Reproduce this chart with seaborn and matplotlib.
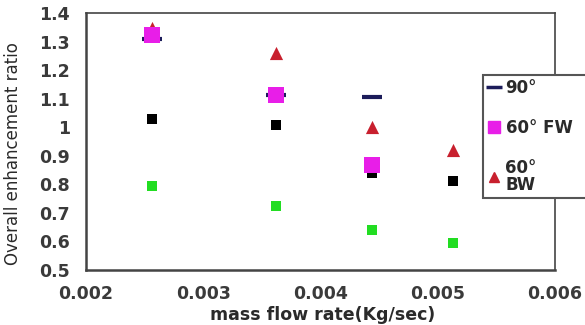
import matplotlib
matplotlib.use('Agg')
import matplotlib.pyplot as plt
import seaborn as sns
from matplotlib.lines import Line2D

# data
flow = [0.00256, 0.00362, 0.00444, 0.00513]
plain_black = [1.029, 1.008, 0.840, 0.812]
plain_green = [0.794, 0.724, 0.640, 0.595]
deg90_flow = [0.00256, 0.00362, 0.00444]
deg90 = [1.309, 1.113, 1.106]
fw60 = [1.323, 1.113, 0.868]
bw60 = [1.347, 1.260, 1.000, 0.920]

y_ticks = [0.5, 0.6, 0.7, 0.8, 0.9, 1.0, 1.1, 1.2, 1.3, 1.4]
y_tick_labels = ['0.5', '0.6', '0.7', '0.8', '0.9', '1', '1.1', '1.2', '1.3', '1.4']
x_ticks = [0.002, 0.003, 0.004, 0.005, 0.006]
x_tick_labels = ['0.002', '0.003', '0.004', '0.005', '0.006']

navy = '#1c1c5a'
magenta = '#e81ee8'
red = '#c8202e'
green = '#22dd22'

sns.set_style('white')
plt.rcParams['font.family'] = ['DejaVu Sans']

fig = plt.figure(figsize=(5.85, 3.25), dpi=100)
ax = fig.add_axes([86 / 585, 55 / 325, 469 / 585, 257 / 325])

sns.scatterplot(x=flow, y=plain_black, ax=ax, marker='s', s=50, color='black', linewidth=0, zorder=2)
sns.scatterplot(x=flow, y=plain_green, ax=ax, marker='s', s=50, color=green, linewidth=0, zorder=2)
ax.plot(deg90_flow, deg90, linestyle='none', marker='_', markersize=14, markeredgewidth=3,
        color=navy, zorder=3)
sns.scatterplot(x=flow, y=bw60, ax=ax, marker='^', s=90, color=red, linewidth=0, zorder=4)
sns.scatterplot(x=flow[:3], y=fw60, ax=ax, marker='s', s=120, color=magenta, linewidth=0, zorder=5)

ax.set_xlim(0.002, 0.006)
ax.set_ylim(0.5, 1.4)
ax.set_xticks(x_ticks)
ax.set_xticklabels(x_tick_labels)
ax.set_yticks(y_ticks)
ax.set_yticklabels(y_tick_labels)
ax.tick_params(axis='both', direction='out', length=5.5, width=1.2, color='#444',
               labelsize=12.5, labelcolor='#3a3a3a')
for lab in ax.get_xticklabels() + ax.get_yticklabels():
    lab.set_fontweight('bold')
ax.tick_params(axis='x', pad=5)
ax.tick_params(axis='y', pad=6)

for side in ['left', 'bottom']:
    ax.spines[side].set_linewidth(1.8)
    ax.spines[side].set_color('#444')
for side in ['top', 'right']:
    ax.spines[side].set_linewidth(1.2)
    ax.spines[side].set_color('#444')

ax.set_xlabel('mass flow rate(Kg/sec)', fontsize=12.5, fontweight='bold', color='#2a2a2a')
ax.xaxis.set_label_coords(0.505, -0.142)
ax.set_ylabel('Overall enhancement ratio', fontsize=12, color='#2a2a2a')
ax.yaxis.set_label_coords(-0.137, 0.455)

handles = [
    Line2D([], [], linestyle='none', marker='_', markersize=11, markeredgewidth=2.5, color=navy),
    Line2D([], [], linestyle='none', marker='s', markersize=9, color=magenta),
    Line2D([], [], linestyle='none', marker='^', markersize=7, color=red),
]
labels = ['90°', '60° FW', '60°\nBW']
leg = fig.legend(handles, labels, loc='upper left',
                 bbox_to_anchor=(483 / 585, 1 - 75 / 325 - 0.5, 0.2, 0.5), mode='expand',
                 frameon=True, fancybox=False, handlelength=0.8, handletextpad=0.3,
                 borderpad=0.25, labelspacing=1.3, prop={'weight': 'bold', 'size': 12},
                 borderaxespad=0, framealpha=1)
leg.get_frame().set_edgecolor('#555')
leg.get_frame().set_linewidth(1.5)
for t in leg.get_texts():
    t.set_color('#2a2a2a')
leg.get_texts()[2].set_linespacing(0.95)

fig.savefig('out.png', dpi=100)
